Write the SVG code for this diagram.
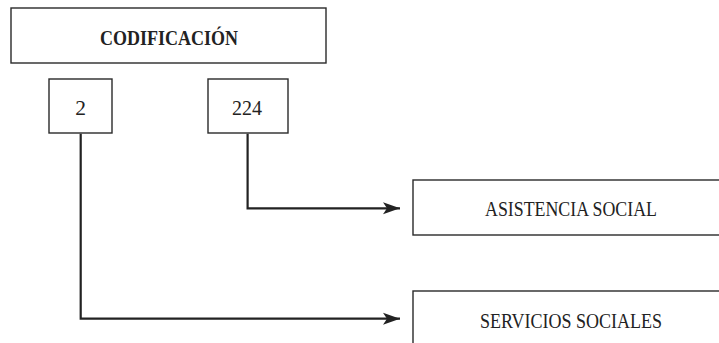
<svg xmlns="http://www.w3.org/2000/svg" width="719" height="343" viewBox="0 0 719 343">
<style>
.box{fill:#fff;stroke:#2a2a2a;stroke-width:1.4}
.t{font-family:"Liberation Serif","Times New Roman",serif;fill:#222;text-anchor:middle}
.link{fill:none;stroke:#222;stroke-width:2.2}
</style>
<defs>
<marker id="arr" markerUnits="userSpaceOnUse" markerWidth="18" markerHeight="13" refX="17" refY="6.5" orient="auto">
<path d="M0,0.5 L17,6.5 L0,12.5 L4,6.5 Z" fill="#222"/>
</marker>
</defs>
<rect width="719" height="343" fill="#fff"/>
<g id="codificacion">
<rect class="box" x="11" y="8" width="315" height="55"/>
<text class="t" x="169" y="45" font-size="20.5" font-weight="bold" textLength="138" lengthAdjust="spacingAndGlyphs">CODIFICACIÓN</text>
</g>
<g id="n2">
<rect class="box" x="49" y="79" width="63" height="54"/>
<text class="t" x="80.7" y="115" font-size="21.5">2</text>
</g>
<g id="n224">
<rect class="box" x="208" y="79" width="80" height="54"/>
<text class="t" x="247" y="115" font-size="21.5" textLength="30" lengthAdjust="spacingAndGlyphs">224</text>
</g>
<g id="asistencia">
<rect class="box" x="413" y="180" width="330" height="55"/>
<text class="t" x="571" y="216" font-size="20.5" textLength="172" lengthAdjust="spacingAndGlyphs">ASISTENCIA SOCIAL</text>
</g>
<g id="servicios">
<rect class="box" x="413" y="291" width="330" height="70"/>
<text class="t" x="571" y="328" font-size="20.5" textLength="182" lengthAdjust="spacingAndGlyphs">SERVICIOS SOCIALES</text>
</g>
<g id="connectors">
<path class="link" d="M80.7,133.7 V318.7 H400" marker-end="url(#arr)"/>
<path class="link" d="M247.6,133.7 V208.3 H400" marker-end="url(#arr)"/>
</g>
</svg>
